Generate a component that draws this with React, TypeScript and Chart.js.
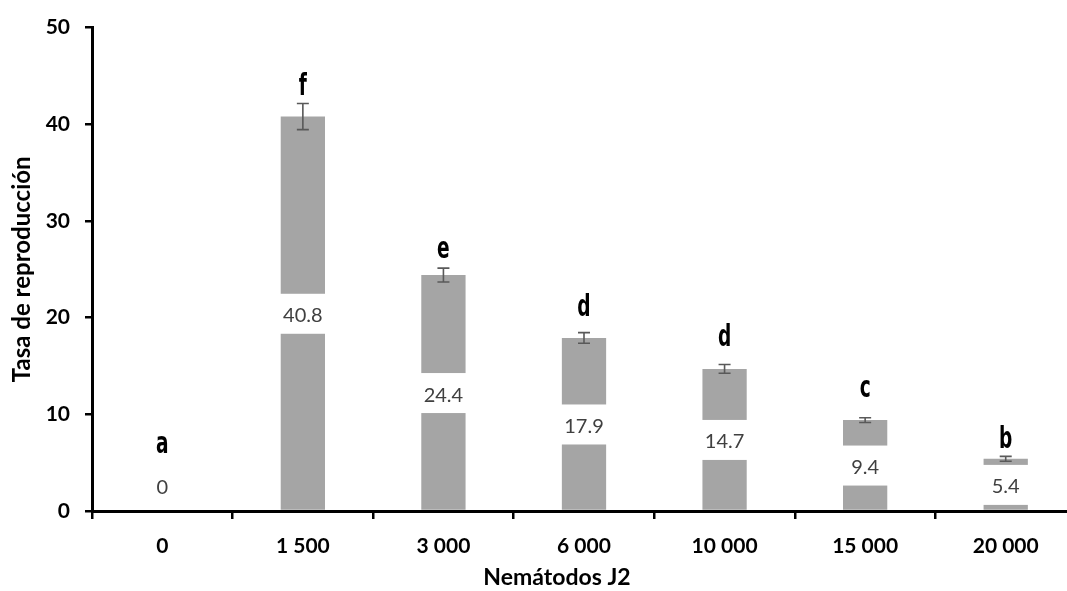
import React, { useEffect, useRef } from "react";
import { Chart, registerables } from "chart.js";

Chart.register(...registerables);

const categories = ["0", "1 500", "3 000", "6 000", "10 000", "15 000", "20 000"];
const values = [0, 40.8, 24.4, 17.9, 14.7, 9.4, 5.4];
const errors = [0, 1.35, 0.72, 0.55, 0.45, 0.25, 0.25];
const letters = ["a", "f", "e", "d", "d", "c", "b"];
const letterLevels = [6.0, 43.0, 26.2, 20.2, 17.1, 11.8, 6.5];
const yTicks = [0, 10, 20, 30, 40, 50];

const CANVAS_W = 1090;
const CANVAS_H = 591;

const overlayPlugin = {
  id: "overlay",
  afterDatasetsDraw(chart: any) {
    const ctx = chart.ctx;
    const meta = chart.getDatasetMeta(0);
    const y = chart.scales.y;
    const base = y.getPixelForValue(0);
    ctx.save();
    meta.data.forEach((bar: any, i: number) => {
      const v = values[i];
      const top = y.getPixelForValue(v);
      const bw = bar.width;
      const cx = bar.x;
      // error bars
      const e = errors[i];
      if (e > 0) {
        const yHi = y.getPixelForValue(v + e);
        const yLo = y.getPixelForValue(v - e);
        ctx.strokeStyle = "#595959";
        ctx.lineWidth = 1.6;
        ctx.beginPath();
        ctx.moveTo(cx, yHi);
        ctx.lineTo(cx, yLo);
        ctx.moveTo(cx - 6, yHi);
        ctx.lineTo(cx + 6, yHi);
        ctx.moveTo(cx - 6, yLo);
        ctx.lineTo(cx + 6, yLo);
        ctx.stroke();
      }
      // value label box
      const mid = Math.min((top + base) / 2, base - 25);
      ctx.fillStyle = "#ffffff";
      if (v > 0) ctx.fillRect(cx - bw / 2 - 2, mid - 20, bw + 4, 40);
      ctx.fillStyle = "#404040";
      ctx.font = "20px Lato, 'Open Sans', sans-serif";
      ctx.textAlign = "center";
      ctx.textBaseline = "middle";
      ctx.fillText(String(v), cx, mid + 2);
      // letters (condensed look)
      ctx.save();
      ctx.fillStyle = "#000000";
      ctx.font = "bold 31px 'DejaVu Sans', sans-serif";
      ctx.textBaseline = "alphabetic";
      ctx.translate(cx, y.getPixelForValue(letterLevels[i]));
      ctx.scale(0.6, 1);
      ctx.fillText(letters[i], 0, 0);
      ctx.restore();
    });
    ctx.restore();
  },
  afterDraw(chart: any) {
    const ctx = chart.ctx;
    const area = chart.chartArea;
    ctx.save();
    ctx.fillStyle = "#000000";
    ctx.textAlign = "center";
    ctx.textBaseline = "middle";
    ctx.font = "bold 23px Lato, 'Open Sans', sans-serif";
    ctx.fillText("Nemátodos J2", 557, area.bottom + 67);
    ctx.font = "bold 24px Lato, 'Open Sans', sans-serif";
    ctx.translate(22, (area.top + area.bottom) / 2);
    ctx.rotate(-Math.PI / 2);
    ctx.fillText("Tasa de reproducción", 0, 0);
    ctx.restore();
  },
};

export default function App() {
  const ref = useRef<HTMLCanvasElement | null>(null);
  useEffect(() => {
    if (!ref.current) return;
    const chart = new Chart(ref.current, {
      type: "bar",
      data: {
        labels: categories,
        datasets: [
          {
            data: values,
            backgroundColor: "#A5A5A5",
            borderWidth: 0,
            barPercentage: 0.315,
            categoryPercentage: 1,
          },
        ],
      },
      options: {
        responsive: false,
        animation: false,
        devicePixelRatio: 1,
        layout: { padding: { left: 0, top: 25, right: CANVAS_W - 1076, bottom: 0 } },
        plugins: { legend: { display: false }, tooltip: { enabled: false } },
        scales: {
          x: {
            offset: true,
            grid: {
              offset: true,
              drawOnChartArea: false,
              drawTicks: true,
              tickLength: 8,
              color: "#000000",
              lineWidth: 2.5,
            },
            border: { display: true, color: "#000000", width: 3 },
            ticks: {
              color: "#000000",
              font: { family: "Lato, 'Open Sans', sans-serif", size: 21, weight: "bold" },
              padding: 15,
              maxRotation: 0,
              autoSkip: false,
            },
            afterFit: (s: any) => {
              s.height = 80;
            },
          },
          y: {
            min: 0,
            max: 50,
            afterBuildTicks: (s: any) => {
              s.ticks = yTicks.map((v) => ({ value: v }));
            },
            grid: {
              drawOnChartArea: false,
              drawTicks: true,
              tickLength: 7,
              color: "#000000",
              lineWidth: 2.5,
            },
            border: { display: true, color: "#000000", width: 3 },
            ticks: {
              color: "#000000",
              font: { family: "Lato, 'Open Sans', sans-serif", size: 21, weight: "bold" },
              padding: 15,
            },
            afterFit: (s: any) => {
              s.width = 92;
            },
          },
        },
      },
      plugins: [overlayPlugin],
    });
    return () => chart.destroy();
  }, []);
  return (
    <div
      style={{
        position: "fixed",
        left: 0,
        top: 0,
        width: 1067,
        height: 591,
        overflow: "hidden",
        background: "#ffffff",
      }}
    >
      <canvas
        ref={ref}
        width={CANVAS_W}
        height={CANVAS_H}
        style={{ width: CANVAS_W, height: CANVAS_H, display: "block" }}
      />
    </div>
  );
}
